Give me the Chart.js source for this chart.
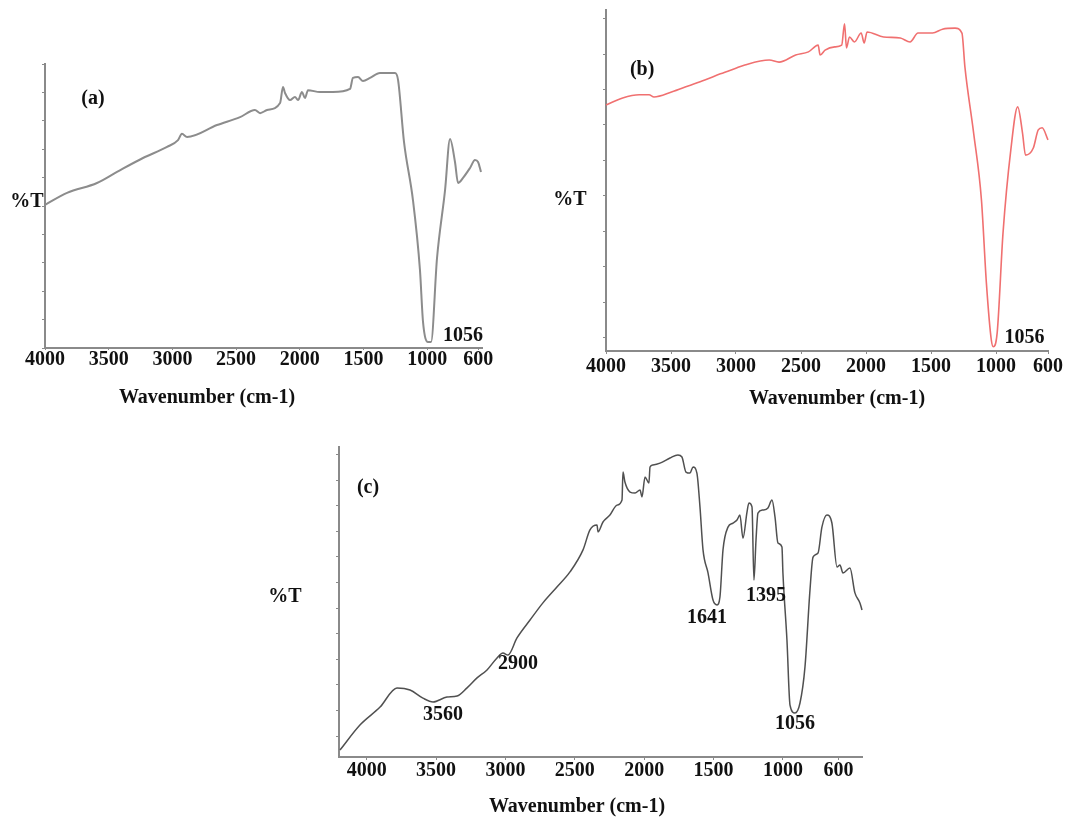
<!DOCTYPE html>
<html>
<head>
<meta charset="utf-8">
<script src="https://cdn.jsdelivr.net/npm/chart.js@4.4.1/dist/chart.umd.min.js"></script>
<style>
  html, body { margin:0; padding:0; background:#fff; }
  body { width:1066px; height:819px; position:relative; overflow:hidden; }
  canvas { position:absolute; }
</style>
</head>
<body>
<canvas id="chartA" width="500" height="380" style="left:0;top:40px"></canvas>
<canvas id="chartB" width="526" height="420" style="left:540px;top:0"></canvas>
<canvas id="chartC" width="640" height="389" style="left:250px;top:430px"></canvas>
<script>
// FTIR spectra (a), (b), (c), %T in arbitrary units
const xTicks = [4000, 3500, 3000, 2500, 2000, 1500, 1000, 600];

// (a)
const wnA = [4000,3827,3592,3435,3231,3042,2956,2925,2885,2650,2469,2352,2312,2257,2155,2132,2116,2077,2038,2014,1983,1959,1936,1842,1740,1606,1583,1543,1504,1449,1371,1253,1229,1182,1112,1057,1033,994,970,923,860,821,782,758,719,664,625,601,578];
const tA  = [50.4,54.6,58.1,62.0,66.9,70.8,73.2,75.4,74.3,78.5,81.3,83.8,82.7,83.8,86.3,91.9,89.8,87.3,88.4,87.3,90.1,88.0,90.8,90.1,90.1,91.2,95.1,95.4,94.0,95.1,96.8,96.8,94.4,72.5,52.1,27.5,9.2,2.1,2.1,31.7,55.6,73.6,65.5,58.1,59.9,63.4,66.2,65.5,62.0];
const notesA = [
  {text:'(a)', wn:3623, t:87.7},
  {text:'1056', wn:719, t:4.2}
];

// (b)
const wnB = [4000,3872,3744,3669,3631,3496,3368,3240,3120,2992,2932,2744,2669,2541,2443,2368,2353,2315,2240,2187,2165,2150,2127,2089,2037,2014,1992,1864,1736,1661,1600,1488,1412,1315,1262,1239,1172,1112,1074,1036,1021,991,946,886,833,796,773,713,675,645,600];
const tB  = [65.6,67.6,68.5,68.5,67.9,69.3,71.0,72.7,74.4,76.1,76.9,78.3,77.7,79.7,80.6,82.5,79.7,81.1,82.0,82.5,88.5,81.7,84.8,83.4,85.9,83.1,86.2,84.8,84.5,83.4,85.9,85.9,87.0,87.3,85.9,76.3,57.7,38.9,15.5,-0.6,-2.5,1.4,29.6,53.0,65.1,57.7,51.5,53.5,58.6,59.2,55.8];
const notesB = [
  {text:'(b)', wn:3722, t:75.5},
  {text:'1056', wn:781, t:0}
];

// (c)
const wnC = [4193,4049,3904,3782,3688,3595,3522,3422,3349,3277,3205,3133,3061,3018,2982,2917,2823,2730,2629,2535,2441,2391,2340,2333,2297,2247,2196,2160,2153,2139,2102,2066,2030,2016,1994,1966,1958,1937,1886,1814,1757,1728,1699,1670,1648,1620,1598,1576,1540,1504,1475,1454,1432,1396,1360,1331,1310,1288,1259,1245,1223,1209,1194,1180,1144,1108,1079,1057,1036,1007,1000,971,949,913,877,841,805,783,747,719,683,647,610,589,567,517,481,445,430];
const tC  = [-5.5,4.3,11.3,18.8,18.0,14.8,13.3,15.2,15.6,18.8,22.7,25.8,30.5,32.4,31.6,38.3,45.3,52.0,58.2,64.1,72.7,80.5,82.4,79.7,83.6,86.3,90.2,92.2,103.1,99.2,95.3,94.9,96.1,93.4,101.2,98.8,105.1,105.9,106.6,108.6,109.8,109.0,103.1,102.7,105.1,102.7,89.5,72.7,63.7,53.1,51.2,54.3,72.7,81.6,83.2,84.4,86.3,77.3,87.5,91.0,89.5,60.9,76.6,87.1,88.3,89.1,92.2,85.5,75.4,73.8,63.7,37.5,12.1,9.0,12.9,27.0,57.0,69.9,71.5,81.6,86.3,83.2,66.0,66.8,63.7,65.6,55.9,52.0,49.2];
const notesC = [
  {text:'(c)', wn:3991, t:96.9},
  {text:'3560', wn:3450, t:8.2},
  {text:'2900', wn:2910, t:28.1},
  {text:'1641', wn:1547, t:46.1},
  {text:'1395', wn:1122, t:54.7},
  {text:'1056', wn:913, t:4.7}
];

const serif = '"Liberation Serif", "Times New Roman", serif';
const axisGrey = '#8a8a8a';

// draws peak numbers, panel letters, %T and the x title
const spectrumText = {
  id: 'spectrumText',
  afterDraw(chart, args, opts) {
    const ctx = chart.ctx, xs = chart.scales.x, ys = chart.scales.y;
    ctx.save();
    ctx.font = 'bold 20px ' + serif;
    ctx.fillStyle = '#111';
    ctx.textAlign = 'center';
    ctx.textBaseline = 'middle';
    opts.notes.forEach(n => ctx.fillText(n.text, xs.getPixelForValue(n.wn), ys.getPixelForValue(n.t)));
    opts.fixed.forEach(f => ctx.fillText(f.text, f.x, f.y));
    ctx.restore();
  }
};

function makeChart(id, wn, t, cfg) {
  return new Chart(document.getElementById(id), {
    type: 'line',
    data: {
      datasets: [{
        data: wn.map((w, i) => ({x: w, y: t[i]})),
        borderColor: cfg.color, borderWidth: cfg.width,
        pointRadius: 0, cubicInterpolationMode: 'monotone', clip: 6
      }]
    },
    options: {
      responsive: false,
      animation: false,
      layout: {autoPadding: false, padding: cfg.pad},
      plugins: {
        legend: {display: false},
        tooltip: {enabled: false},
        spectrumText: {notes: cfg.notes, fixed: cfg.fixed}
      },
      scales: {
        x: {
          type: 'linear', reverse: true, min: cfg.xMin, max: cfg.xMax,
          afterBuildTicks: ax => { ax.ticks = xTicks.map(v => ({value: v})); },
          afterFit: ax => { ax.height = cfg.xH; },
          ticks: {autoSkip: false, maxRotation: 0, padding: cfg.tickPad, color: '#111',
                  font: {family: serif, size: 20, weight: 'bold', lineHeight: 1},
                  callback: v => String(v)},
          grid: {drawOnChartArea: false, tickLength: cfg.tickLen, color: axisGrey},
          border: {color: axisGrey, width: 2}
        },
        y: {
          type: 'linear', min: cfg.yMin, max: cfg.yMax,
          afterFit: ax => { ax.width = cfg.yW; },
          ticks: {display: false, stepSize: 10, includeBounds: false},
          grid: {drawOnChartArea: false, tickLength: 3, color: axisGrey},
          border: {color: axisGrey, width: 2}
        }
      }
    },
    plugins: [spectrumText]
  });
}

makeChart('chartA', wnA, tA, {
  color: '#8c8c8c', width: 2,
  xMin: 570, xMax: 4000, yMin: 0, yMax: 100,
  pad: {top: 24, right: 18, left: 0, bottom: 0}, xH: 72, yW: 45,
  tickLen: 2, tickPad: 0,
  notes: notesA,
  fixed: [{text: '%T', x: 27, y: 162}, {text: 'Wavenumber (cm-1)', x: 207, y: 358}]
});

makeChart('chartB', wnB, tB, {
  color: '#f07070', width: 1.6,
  xMin: 600, xMax: 4000, yMin: -3.7, yMax: 92.4,
  pad: {top: 10, right: 8, left: 0, bottom: 0}, xH: 69, yW: 66,
  tickLen: 3, tickPad: 3,
  notes: notesB,
  fixed: [{text: '%T', x: 30, y: 200}, {text: 'Wavenumber (cm-1)', x: 297, y: 399}]
});

makeChart('chartC', wnC, tC, {
  color: '#505050', width: 1.5,
  xMin: 430, xMax: 4200, yMin: -8.2, yMax: 112.9,
  pad: {top: 17, right: 28, left: 0, bottom: 0}, xH: 62, yW: 89,
  tickLen: 3, tickPad: 1,
  notes: notesC,
  fixed: [{text: '%T', x: 35, y: 167}, {text: 'Wavenumber (cm-1)', x: 327, y: 377}]
});
</script>
</body>
</html>
